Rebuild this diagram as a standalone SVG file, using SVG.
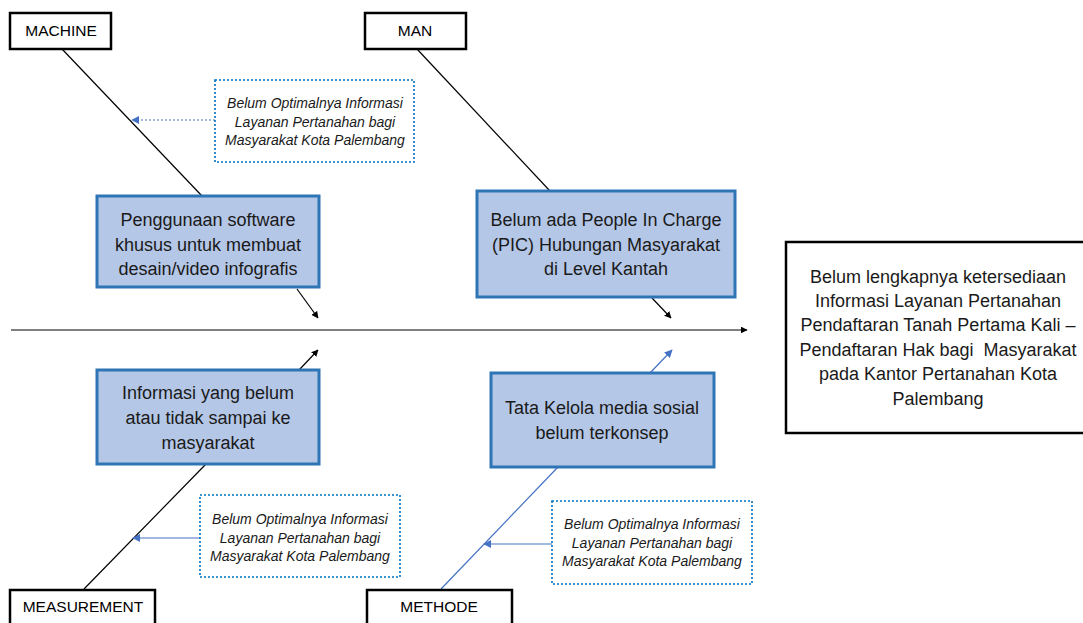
<svg xmlns="http://www.w3.org/2000/svg" width="1083" height="623" viewBox="0 0 1083 623">
<style>
.hdr{fill:#fff;stroke:#000;stroke-width:2.5}
.cause{fill:#b4c7e7;stroke:#2e75b6;stroke-width:3}
.note{fill:#fff;stroke:#0070c0;stroke-width:1.6;stroke-dasharray:2 2}
.eff{fill:#fff;stroke:#000;stroke-width:2.5}
.t{font-family:"Liberation Sans",Arial,sans-serif;fill:#000;text-anchor:middle}
.h{font-size:15.5px}
.c{font-size:18px;fill:#1a1a1a}
.n{font-size:14px;font-style:italic;fill:#1a1a1a}
.k{stroke:#000;stroke-width:1.2;fill:none}
.b{stroke:#4472c4;stroke-width:1.2;fill:none}
</style>
<defs>
<marker id="ak" viewBox="0 0 10 10" refX="9" refY="5" markerWidth="7" markerHeight="7" orient="auto" markerUnits="userSpaceOnUse"><path d="M0,0L10,5L0,10z" fill="#000"/></marker>
<marker id="ab" viewBox="0 0 10 10" refX="9" refY="5" markerWidth="8" markerHeight="8" orient="auto" markerUnits="userSpaceOnUse"><path d="M0,0L10,5L0,10z" fill="#4472c4"/></marker>
</defs>
<g id="connectors">
<line class="k" x1="11" y1="330" x2="747" y2="330" marker-end="url(#ak)"/>
<line class="k" x1="62" y1="49" x2="202" y2="196"/>
<line class="k" x1="297" y1="289" x2="318" y2="318" marker-end="url(#ak)"/>
<line class="k" x1="417" y1="49" x2="550" y2="191"/>
<line class="k" x1="652" y1="298" x2="671" y2="318" marker-end="url(#ak)"/>
<line class="k" x1="299" y1="370" x2="318" y2="350" marker-end="url(#ak)"/>
<line class="k" x1="206" y1="464" x2="84" y2="589"/>
<line class="b" x1="650" y1="373" x2="672" y2="350" marker-end="url(#ab)"/>
<line class="b" x1="558" y1="467" x2="441" y2="589"/>
<line class="b" x1="215" y1="120" x2="132" y2="120" stroke-dasharray="2 2" stroke-width="1.6" marker-end="url(#ab)"/>
<line class="b" x1="200" y1="538" x2="133" y2="538" marker-end="url(#ab)"/>
<line class="b" x1="552" y1="544" x2="484" y2="544" marker-end="url(#ab)"/>
</g>
<g id="machine"><rect class="hdr" x="10" y="13" width="101" height="36"/><text class="t h" x="61" y="36">MACHINE</text></g>
<g id="man"><rect class="hdr" x="365" y="13" width="101" height="36"/><text class="t h" x="415" y="36">MAN</text></g>
<g id="measurement"><rect class="hdr" x="10" y="590" width="145" height="40"/><text class="t h" x="83" y="612">MEASUREMENT</text></g>
<g id="methode"><rect class="hdr" x="367" y="590" width="145" height="40"/><text class="t h" x="439" y="612">METHODE</text></g>
<g id="note-top"><rect class="note" x="215" y="80" width="199" height="82"/>
<text class="t n" x="315" y="108">Belum Optimalnya Informasi</text>
<text class="t n" x="315" y="127">Layanan Pertanahan bagi</text>
<text class="t n" x="315" y="145">Masyarakat Kota Palembang</text></g>
<g id="cause-software"><rect class="cause" x="97" y="196" width="222" height="91"/>
<text class="t c" x="208" y="226">Penggunaan software</text>
<text class="t c" x="208" y="251">khusus untuk membuat</text>
<text class="t c" x="208" y="275">desain/video infografis</text></g>
<g id="cause-pic"><rect class="cause" x="477" y="191" width="258" height="106"/>
<text class="t c" x="606" y="226">Belum ada People In Charge</text>
<text class="t c" x="606" y="251">(PIC) Hubungan Masyarakat</text>
<text class="t c" x="606" y="275">di Level Kantah</text></g>
<g id="cause-info"><rect class="cause" x="97" y="370" width="222" height="94"/>
<text class="t c" x="208" y="399">Informasi yang belum</text>
<text class="t c" x="208" y="424">atau tidak sampai ke</text>
<text class="t c" x="208" y="449">masyarakat</text></g>
<g id="cause-tata"><rect class="cause" x="491" y="373" width="223" height="94"/>
<text class="t c" x="602" y="414">Tata Kelola media sosial</text>
<text class="t c" x="602" y="439">belum terkonsep</text></g>
<g id="note-bl"><rect class="note" x="200" y="495" width="200" height="82"/>
<text class="t n" x="300" y="524">Belum Optimalnya Informasi</text>
<text class="t n" x="300" y="543">Layanan Pertanahan bagi</text>
<text class="t n" x="300" y="561">Masyarakat Kota Palembang</text></g>
<g id="note-br"><rect class="note" x="552" y="501" width="200" height="83"/>
<text class="t n" x="652" y="529">Belum Optimalnya Informasi</text>
<text class="t n" x="652" y="548">Layanan Pertanahan bagi</text>
<text class="t n" x="652" y="566">Masyarakat Kota Palembang</text></g>
<g id="effect"><rect class="eff" x="786" y="242" width="310" height="191"/>
<text class="t c" x="938" y="283">Belum lengkapnya ketersediaan</text>
<text class="t c" x="938" y="307">Informasi Layanan Pertanahan</text>
<text class="t c" x="938" y="331">Pendaftaran Tanah Pertama Kali –</text>
<text class="t c" x="938" y="356" style="white-space:pre">Pendaftaran Hak bagi  Masyarakat</text>
<text class="t c" x="938" y="380">pada Kantor Pertanahan Kota</text>
<text class="t c" x="938" y="405">Palembang</text></g>
</svg>
